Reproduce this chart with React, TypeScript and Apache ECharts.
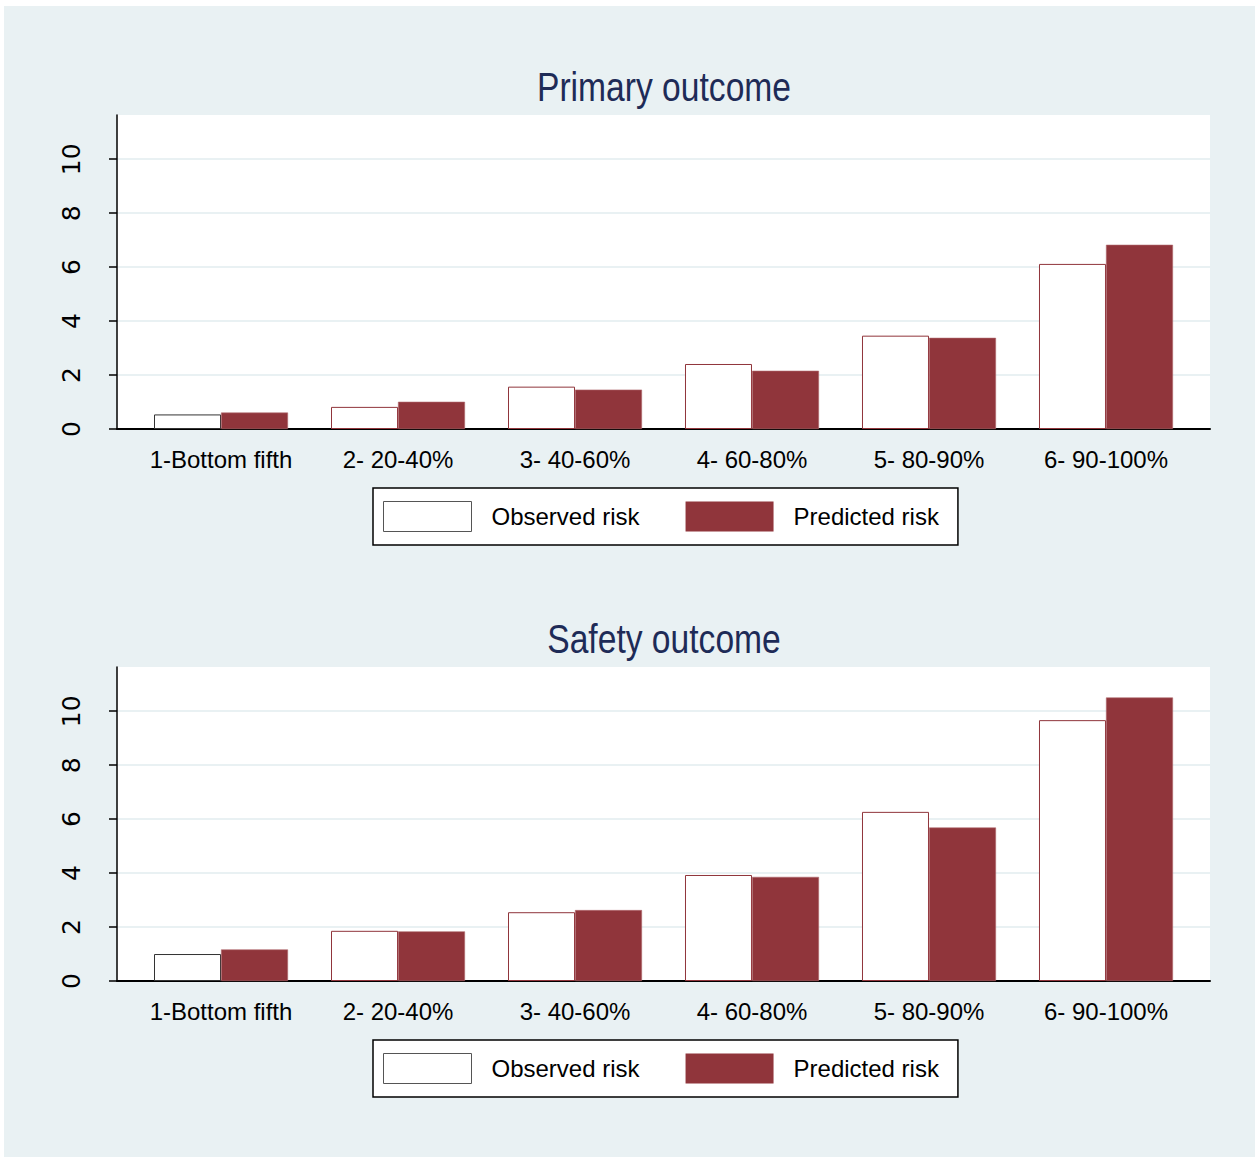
import React, { useEffect, useRef } from "react";
import * as echarts from "echarts";

const categories = ["1-Bottom fifth", "2- 20-40%", "3- 40-60%", "4- 60-80%", "5- 80-90%", "6- 90-100%"];
const primaryObserved = [0.54, 0.82, 1.57, 2.41, 3.46, 6.12];
const primaryPredicted = [0.61, 1.01, 1.46, 2.16, 3.38, 6.83];
const safetyObserved = [1.0, 1.86, 2.55, 3.93, 6.27, 9.67];
const safetyPredicted = [1.17, 1.84, 2.63, 3.86, 5.69, 10.51];
const yTicks = [0, 2, 4, 6, 8, 10];
const titles = ["Primary outcome", "Safety outcome"];
const seriesNames = ["Observed risk", "Predicted risk"];

const CRAN = "#90353B";
const BG = "#E9F1F3";
const SANS = '"Liberation Sans", Arial, sans-serif';

export default function App() {
  const ref = useRef<HTMLDivElement>(null);
  useEffect(() => {
    if (!ref.current) return;
    const chart = echarts.init(ref.current, null, { renderer: "svg" });
    const gridTops = [109, 661];
    const gridH = 314;
    const xIdx = categories.map((_, i) => i);
    const grids = gridTops.map((t) => ({
      left: 113,
      top: t,
      width: 1093,
      height: gridH,
      show: true,
      backgroundColor: "#ffffff",
      borderWidth: 0,
      containLabel: false,
    }));
    const xAxes = [0, 1].map((g) => ({
      type: "value",
      gridIndex: g,
      min: -0.5876,
      max: 5.5876,
      axisLine: { show: true, onZero: false, lineStyle: { color: "#000", width: 2 } },
      axisTick: { show: false },
      splitLine: { show: false },
      axisLabel: {
        customValues: xIdx,
        formatter: (v: number) => categories[Math.round(v)] ?? "",
        color: "#000",
        fontFamily: SANS,
        fontSize: 24,
        margin: 18,
      },
    }));
    const yAxes = [0, 1].map((g) => ({
      type: "value",
      gridIndex: g,
      min: 0,
      max: 11.64,
      axisLine: { show: true, onZero: false, lineStyle: { color: "#000", width: 1.5 } },
      axisTick: { show: true, customValues: yTicks, length: 8, lineStyle: { color: "#000", width: 1.5 } },
      splitLine: { show: true, lineStyle: { color: BG, width: 2 } },
      axisLabel: {
        customValues: yTicks,
        rotate: 90,
        color: "#000",
        fontFamily: "DejaVu Sans, sans-serif",
        fontSize: 25,
        margin: 33,
      },
    }));
    const mkObs = (vals: number[], g: number) => ({
      name: seriesNames[0],
      type: "bar",
      xAxisIndex: g,
      yAxisIndex: g,
      barWidth: 67,
      barGap: "0%",
      data: vals.map((v, i) => ({
        value: [i, v],
        itemStyle: { color: "#ffffff", borderColor: i === 0 ? "#333333" : CRAN, borderWidth: 1 },
      })),
    });
    const mkPred = (vals: number[], g: number) => ({
      name: seriesNames[1],
      type: "bar",
      xAxisIndex: g,
      yAxisIndex: g,
      barWidth: 67,
      barGap: "0%",
      itemStyle: { color: CRAN, borderColor: "#B06A6F", borderWidth: 0.6 },
      data: vals.map((v, i) => [i, v]),
    });
    const legends = [482, 1034].map((t) => ({
      left: 369,
      top: t,
      orient: "horizontal",
      backgroundColor: "#ffffff",
      borderColor: "#000",
      borderWidth: 1.5,
      borderRadius: 0,
      padding: [13, 19, 13, 10],
      itemWidth: 88,
      itemHeight: 30,
      itemGap: 46,
      selectedMode: false,
      textStyle: { color: "#000", fontFamily: SANS, fontSize: 24, padding: [0, 0, 0, 15] },
      data: [
        { name: seriesNames[0], icon: "rect", itemStyle: { color: "#ffffff", borderColor: "#555555", borderWidth: 1 } },
        { name: seriesNames[1], icon: "rect", itemStyle: { color: CRAN, borderWidth: 0 } },
      ],
    }));
    chart.setOption({
      animation: false,
      backgroundColor: BG,
      graphic: [81, 633].map((y, i) => ({
        type: "text",
        x: 660,
        y,
        scaleX: 0.82,
        style: {
          text: titles[i],
          fill: "#1E2B57",
          font: `normal 41px ${SANS}`,
          textAlign: "center",
          textVerticalAlign: "middle",
        },
      })),
      grid: grids,
      xAxis: xAxes,
      yAxis: yAxes,
      legend: legends,
      series: [
        mkObs(primaryObserved, 0),
        mkPred(primaryPredicted, 0),
        mkObs(safetyObserved, 1),
        mkPred(safetyPredicted, 1),
      ],
    });
    return () => chart.dispose();
  }, []);
  return (
    <div
      ref={ref}
      style={{ position: "absolute", left: 4, top: 6, width: 1251, height: 1151 }}
    />
  );
}
